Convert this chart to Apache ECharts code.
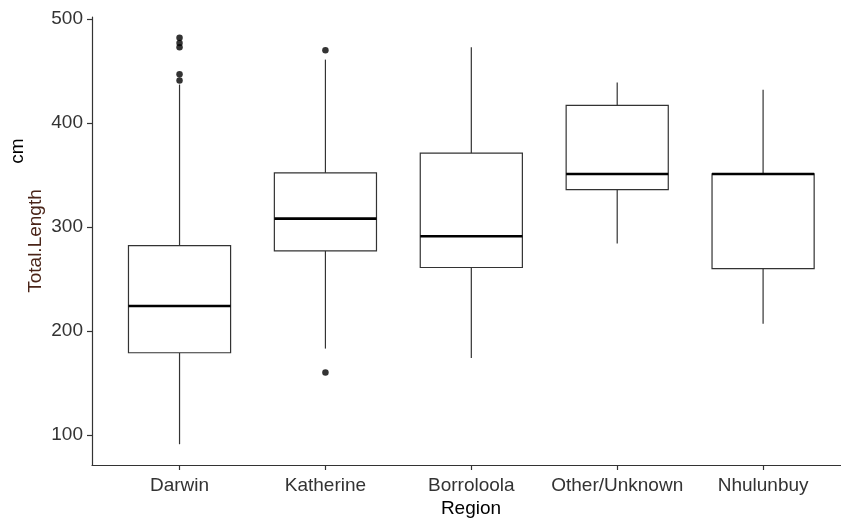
<!DOCTYPE html>
<html>
<head>
<meta charset="utf-8">
<script src="https://cdn.jsdelivr.net/npm/echarts@6/dist/echarts.min.js"></script>
<style>
  html, body { margin: 0; padding: 0; background: #fff; }
  #chart { width: 841px; height: 527px; }
</style>
</head>
<body>
<div id="chart"></div>
<script>
// Box summaries of Total.Length (cm) per region
const categories = ['Darwin', 'Katherine', 'Borroloola', 'Other/Unknown', 'Nhulunbuy'];
const lowerWhisker = [91, 183, 174, 284, 207];
const lowerQuartile = [179, 277, 261, 336, 260];
const medianValue = [224, 308, 291, 351, 351];
const upperQuartile = [282, 352, 371, 417, 351];
const upperWhisker = [437, 461, 473, 439, 432];

// Points beyond the whiskers: [region index, value]
const outlierRegion = [0, 0, 0, 0, 0, 1, 1];
const outlierValue = [482, 477, 473, 447, 441, 470, 160];

const yTicks = [100, 200, 300, 400, 500];

const FONT = 'Liberation Sans, Arial, sans-serif';
const INK = '#333333';
const BOX_WIDTH = 0.7;

const positions = categories.map((_, i) => i + 1);

const boxData = categories.map((_, i) => [
  positions[i], lowerWhisker[i], lowerQuartile[i], medianValue[i], upperQuartile[i], upperWhisker[i]
]);
const outlierData = outlierValue.map((v, i) => [positions[outlierRegion[i]], v]);

function renderBox(params, api) {
  const x = api.value(0);
  const lo = api.coord([x, api.value(1)]);
  const q1 = api.coord([x, api.value(2)]);
  const md = api.coord([x, api.value(3)]);
  const q3 = api.coord([x, api.value(4)]);
  const hi = api.coord([x, api.value(5)]);
  const half = api.size([BOX_WIDTH, 0])[0] / 2;
  const cx = lo[0];
  const thin = { stroke: INK, lineWidth: 1.2, fill: null };
  return {
    type: 'group',
    children: [
      { type: 'line', shape: { x1: cx, y1: hi[1], x2: cx, y2: q3[1] }, style: thin },
      { type: 'line', shape: { x1: cx, y1: q1[1], x2: cx, y2: lo[1] }, style: thin },
      { type: 'rect', shape: { x: cx - half, y: q3[1], width: half * 2, height: q1[1] - q3[1] },
        style: { stroke: INK, lineWidth: 1.2, fill: '#ffffff' } },
      { type: 'line', shape: { x1: cx - half, y1: md[1], x2: cx + half, y2: md[1] },
        style: { stroke: '#000000', lineWidth: 2.6 } }
    ]
  };
}

const chart = echarts.init(document.getElementById('chart'), null, { renderer: 'canvas' });

chart.setOption({
  animation: false,
  backgroundColor: '#ffffff',
  grid: { left: 92, top: 17, right: 0, height: 448, containLabel: false },
  xAxis: {
    type: 'value',
    min: 0.4,
    max: 5.534,
    name: 'Region',
    nameLocation: 'middle',
    nameGap: 34,
    nameMoveOverlap: false,
    nameTextStyle: { fontFamily: FONT, fontSize: 19, color: '#000000', padding: [0, 0, 0, 9] },
    axisLine: { show: true, lineStyle: { color: INK, width: 1.2 } },
    axisTick: { show: true, length: 5, customValues: positions, lineStyle: { color: INK, width: 1.2 } },
    axisLabel: {
      customValues: positions,
      margin: 11,
      fontFamily: FONT,
      fontSize: 19,
      color: INK,
      formatter: (v) => categories[Math.round(v) - 1] || ''
    },
    splitLine: { show: false }
  },
  yAxis: {
    type: 'value',
    min: 71,
    max: 502,
    name: 'Total.Length',
    nameLocation: 'middle',
    nameGap: 47,
    nameMoveOverlap: false,
    nameTextStyle: { fontFamily: FONT, fontSize: 19, color: '#4a2418' },
    axisLine: { show: true, lineStyle: { color: INK, width: 1.2 } },
    axisTick: { show: true, length: 5, customValues: yTicks, lineStyle: { color: INK, width: 1.2 } },
    axisLabel: { customValues: yTicks, margin: 9, fontFamily: FONT, fontSize: 19, color: INK },
    splitLine: { show: false }
  },
  graphic: [
    {
      type: 'text',
      x: 18,
      y: 151,
      rotation: Math.PI / 2,
      style: {
        text: 'cm',
        fontFamily: FONT,
        fontSize: 19,
        fill: '#000000',
        textAlign: 'center',
        textVerticalAlign: 'middle'
      }
    }
  ],
  series: [
    {
      type: 'custom',
      renderItem: renderBox,
      data: boxData,
      encode: { x: 0, y: [1, 2, 3, 4, 5] },
      clip: false,
      z: 2
    },
    {
      type: 'scatter',
      data: outlierData,
      symbol: 'circle',
      symbolSize: 6.5,
      itemStyle: { color: '#000000' },
      z: 3
    }
  ]
});
</script>
</body>
</html>
